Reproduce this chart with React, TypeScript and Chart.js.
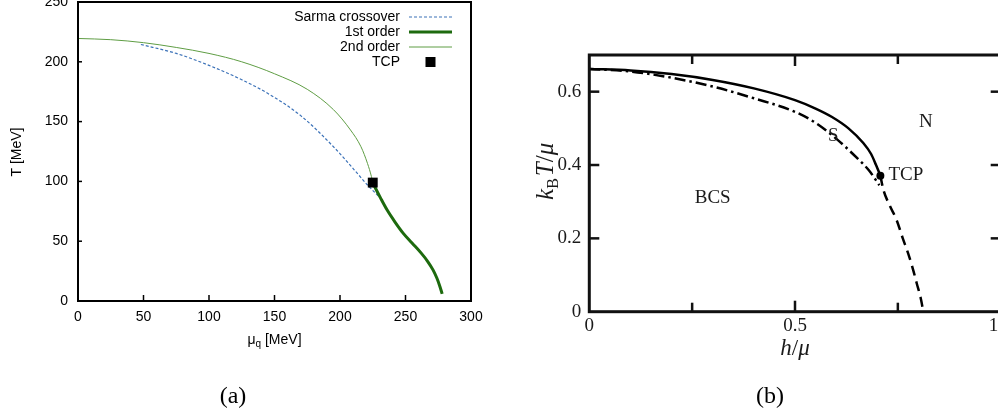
import React, { useEffect, useRef } from 'react';
import { Chart, registerables } from 'chart.js';

Chart.register(...registerables);

// ---------- Panel (a) data ----------
const muSecond = [0, 25, 50, 75, 100, 125, 150, 175, 195, 208, 216, 221, 224, 225];
const tSecond = [219.5, 218.5, 216, 212, 207, 200, 190, 177, 160, 143, 129, 115, 104, 99];
const muSarma = [48, 75, 100, 125, 145, 170, 195, 211, 221, 230];
const tSarma = [214.5, 207, 197, 185, 173.5, 155, 129, 109.5, 97, 87];
const muFirst = [225, 227, 231, 236, 242, 248, 255, 262, 267, 271, 274, 276, 278];
const tFirst = [99, 94.5, 86, 76, 66, 57, 48.5, 40, 33, 26, 19, 13, 6];
const muTcp = [225];
const tTcp = [99];
const legendA = ['Sarma crossover', '1st order', '2nd order', 'TCP'];
const xTicksA = [0, 50, 100, 150, 200, 250, 300];
const yTicksA = [0, 50, 100, 150, 200, 250];

// ---------- Panel (b) data ----------
const hSecondB = [0, 0.1, 0.2, 0.3, 0.4, 0.5, 0.55, 0.59, 0.63, 0.666, 0.685, 0.697, 0.7075];
const tSecondB = [0.662, 0.658, 0.648, 0.632, 0.609, 0.577, 0.554, 0.531, 0.5, 0.46, 0.43, 0.4, 0.371];
const hSarmaB = [0, 0.1, 0.2, 0.3, 0.4, 0.5, 0.55, 0.6, 0.65, 0.68, 0.705];
const tSarmaB = [0.662, 0.655, 0.638, 0.614, 0.582, 0.545, 0.515, 0.472, 0.42, 0.385, 0.345];
const hFirstB = [0.7075, 0.715, 0.73, 0.747, 0.762, 0.775, 0.787, 0.796, 0.805, 0.812];
const tFirstB = [0.371, 0.332, 0.29, 0.25, 0.2, 0.159, 0.115, 0.077, 0.04, 0];
const hTcpB = [0.7075];
const tTcpB = [0.371];
const xTicksB = [0, 0.5, 1];
const yTicksB = [0, 0.2, 0.4, 0.6];
const xMarksB = [0.25, 0.5, 0.75];
const yMarksB = [0.2, 0.4, 0.6];
const regionLabelsB = ['S', 'N', 'BCS', 'TCP'];
const regionHB = [0.593, 0.818, 0.3, 0.727];
const regionTB = [0.478, 0.518, 0.311, 0.373];

const SANS = '"Liberation Sans", Arial, sans-serif';
const SERIF = '"Liberation Serif", "Times New Roman", serif';

const C_BLUE = '#3c72b8';
const C_DARK = '#1d6a0e';
const C_LIGHT = '#5f9d44';

const pts = (xs: number[], ys: number[]) => xs.map((x, i) => ({ x, y: ys[i] }));

type Run = { t: string; f: string; dy?: number; dx?: number };
function drawRuns(ctx: CanvasRenderingContext2D, runs: Run[], x: number, y: number, align: 'left' | 'center' | 'right') {
  let w = 0;
  for (const r of runs) {
    ctx.font = r.f;
    w += ctx.measureText(r.t).width + (r.dx || 0);
  }
  let cx = align === 'center' ? x - w / 2 : align === 'right' ? x - w : x;
  ctx.textAlign = 'left';
  for (const r of runs) {
    ctx.font = r.f;
    cx += r.dx || 0;
    ctx.fillText(r.t, cx, y + (r.dy || 0));
    cx += ctx.measureText(r.t).width;
  }
}

function seg(ctx: CanvasRenderingContext2D, x1: number, y1: number, x2: number, y2: number) {
  ctx.beginPath();
  ctx.moveTo(x1, y1);
  ctx.lineTo(x2, y2);
  ctx.stroke();
}

const panelAPlugin = {
  id: 'panelA',
  afterDatasetsDraw(chart: any) {
    const { ctx, chartArea: ca, scales } = chart;
    const x = scales.x;
    const y = scales.y;
    ctx.save();
    ctx.strokeStyle = '#000';
    ctx.lineWidth = 2;
    ctx.strokeRect(ca.left, ca.top, ca.right - ca.left, ca.bottom - ca.top);
    ctx.lineWidth = 1.5;
    for (const v of xTicksA) {
      const px = x.getPixelForValue(v);
      seg(ctx, px, ca.bottom, px, ca.bottom - 6);
    }
    for (const v of yTicksA) {
      const py = y.getPixelForValue(v);
      seg(ctx, ca.left, py, ca.left + 4, py);
    }
    // axis titles
    ctx.fillStyle = '#000';
    ctx.textBaseline = 'middle';
    drawRuns(ctx, [
      { t: 'μ', f: `14px ${SANS}` },
      { t: 'q', f: `10px ${SANS}`, dy: 4 },
      { t: ' [MeV]', f: `14px ${SANS}` },
    ], (ca.left + ca.right) / 2, ca.bottom + 39, 'center');
    ctx.save();
    ctx.translate(ca.left - 61, ca.top + 150);
    ctx.rotate(-Math.PI / 2);
    drawRuns(ctx, [{ t: 'T [MeV]', f: `14px ${SANS}` }], 0, 0, 'center');
    ctx.restore();
    // legend
    const textRight = 400;
    const l0 = 409;
    const l1 = 452;
    const rows = [ca.top + 15, ca.top + 30, ca.top + 45, ca.top + 60];
    ctx.font = `14px ${SANS}`;
    ctx.textAlign = 'right';
    legendA.forEach((t, i) => ctx.fillText(t, textRight, rows[i]));
    ctx.strokeStyle = C_BLUE;
    ctx.lineWidth = 1.2;
    ctx.setLineDash([3, 2]);
    seg(ctx, l0, rows[0], l1, rows[0]);
    ctx.setLineDash([]);
    ctx.strokeStyle = C_DARK;
    ctx.lineWidth = 3;
    seg(ctx, l0, rows[1], l1, rows[1]);
    ctx.strokeStyle = C_LIGHT;
    ctx.lineWidth = 1;
    seg(ctx, l0, rows[2], l1, rows[2]);
    ctx.fillStyle = '#000';
    ctx.fillRect((l0 + l1) / 2 - 5, rows[3] - 5, 10, 10);
    ctx.restore();
  },
};

const panelBPlugin = {
  id: 'panelB',
  afterDatasetsDraw(chart: any) {
    const { ctx, chartArea: ca, scales } = chart;
    const x = scales.x;
    const y = scales.y;
    ctx.save();
    ctx.strokeStyle = '#111';
    ctx.lineWidth = 3;
    ctx.strokeRect(ca.left, ca.top, ca.right - ca.left, ca.bottom - ca.top);
    ctx.lineWidth = 2.5;
    for (const v of xMarksB) {
      const px = x.getPixelForValue(v);
      const len = v === 0.5 ? 11 : 9;
      seg(ctx, px, ca.bottom, px, ca.bottom - len);
      seg(ctx, px, ca.top, px, ca.top + len);
    }
    for (const v of yMarksB) {
      const py = y.getPixelForValue(v);
      seg(ctx, ca.left, py, ca.left + 10, py);
      seg(ctx, ca.right, py, ca.right - 10, py);
    }
    ctx.fillStyle = '#1a1a1a';
    ctx.textBaseline = 'middle';
    regionLabelsB.forEach((t, i) => {
      ctx.font = `19px ${SERIF}`;
      ctx.textAlign = t === 'TCP' ? 'left' : 'center';
      ctx.fillText(t, x.getPixelForValue(regionHB[i]), y.getPixelForValue(regionTB[i]));
    });
    // axis titles
    ctx.textBaseline = 'alphabetic';
    drawRuns(ctx, [
      { t: 'h', f: `italic 23px ${SERIF}` },
      { t: '/', f: `23px ${SERIF}` },
      { t: 'μ', f: `italic 23px ${SERIF}` },
    ], x.getPixelForValue(0.5), ca.bottom + 43, 'center');
    ctx.save();
    ctx.translate(ca.left - 36, (ca.top + ca.bottom) / 2 - 12);
    ctx.rotate(-Math.PI / 2);
    drawRuns(ctx, [
      { t: 'k', f: `italic 25px ${SERIF}` },
      { t: 'B', f: `16px ${SERIF}`, dy: 5 },
      { t: 'T', f: `italic 25px ${SERIF}`, dx: 2 },
      { t: '/', f: `25px ${SERIF}` },
      { t: 'μ', f: `italic 25px ${SERIF}` },
    ], 0, 0, 'center');
    ctx.restore();
    ctx.restore();
  },
};

function PanelA() {
  const ref = useRef<HTMLCanvasElement>(null);
  useEffect(() => {
    if (!ref.current) return;
    const chart = new Chart(ref.current, {
      type: 'line',
      data: {
        datasets: [
          {
            label: 'TCP', data: pts(muTcp, tTcp), showLine: false, pointStyle: 'rect',
            pointRadius: 7, pointBackgroundColor: '#000', pointBorderWidth: 0, order: 0,
          },
          {
            label: '2nd order', data: pts(muSecond, tSecond), borderColor: C_LIGHT, borderWidth: 1,
            pointRadius: 0, cubicInterpolationMode: 'monotone', order: 3,
          },
          {
            label: 'Sarma crossover', data: pts(muSarma, tSarma), borderColor: C_BLUE, borderWidth: 1.2,
            borderDash: [3, 2], pointRadius: 0, cubicInterpolationMode: 'monotone', order: 2,
          },
          {
            label: '1st order', data: pts(muFirst, tFirst), borderColor: C_DARK, borderWidth: 3,
            pointRadius: 0, cubicInterpolationMode: 'monotone', order: 1,
          },
        ],
      },
      options: {
        animation: false,
        responsive: false,
        devicePixelRatio: 1,
        layout: { padding: { top: 19, right: 22, bottom: 0, left: 0 } },
        plugins: { legend: { display: false }, tooltip: { enabled: false } },
        scales: {
          x: {
            type: 'linear', min: 0, max: 300,
            grid: { display: false, drawTicks: false }, border: { display: false },
            ticks: { stepSize: 50, padding: 8, color: '#000', font: { family: SANS, size: 14 } },
            afterFit: (s: any) => { s.height = 109; },
          },
          y: {
            type: 'linear', min: 0, max: 250,
            grid: { display: false, drawTicks: false }, border: { display: false },
            ticks: { stepSize: 50, padding: 10, color: '#000', font: { family: SANS, size: 14 } },
            afterFit: (s: any) => { s.width = 78; },
          },
        },
      } as any,
      plugins: [panelAPlugin],
    });
    return () => chart.destroy();
  }, []);
  return (
    <canvas ref={ref} width={493} height={427}
      style={{ position: 'absolute', left: 0, top: -17, width: 493, height: 427 }} />
  );
}

function PanelB() {
  const ref = useRef<HTMLCanvasElement>(null);
  useEffect(() => {
    if (!ref.current) return;
    const chart = new Chart(ref.current, {
      type: 'line',
      data: {
        datasets: [
          {
            label: 'TCP', data: pts(hTcpB, tTcpB), showLine: false, pointStyle: 'circle',
            pointRadius: 4, pointBackgroundColor: '#000', pointBorderWidth: 0, order: 0,
          },
          {
            label: 'second', data: pts(hSecondB, tSecondB), borderColor: '#000', borderWidth: 2.5,
            pointRadius: 0, cubicInterpolationMode: 'monotone', order: 1,
          },
          {
            label: 'sarma', data: pts(hSarmaB, tSarmaB), borderColor: '#000', borderWidth: 2.5,
            borderDash: [11, 4, 2.5, 4], pointRadius: 0, cubicInterpolationMode: 'monotone', order: 2,
          },
          {
            label: 'first', data: pts(hFirstB, tFirstB), borderColor: '#000', borderWidth: 2.5,
            borderDash: [10, 6], pointRadius: 0, cubicInterpolationMode: 'monotone', order: 3,
          },
        ],
      },
      options: {
        animation: false,
        responsive: false,
        devicePixelRatio: 1,
        layout: { padding: { top: 55, right: 19.3, bottom: 0, left: 0 } },
        plugins: { legend: { display: false }, tooltip: { enabled: false } },
        scales: {
          x: {
            type: 'linear', min: 0, max: 1,
            grid: { display: false, drawTicks: false }, border: { display: false },
            afterBuildTicks: (s: any) => { s.ticks = xTicksB.map((v) => ({ value: v })); },
            ticks: { padding: 3, color: '#1a1a1a', font: { family: SERIF, size: 19 }, autoSkip: false },
            afterFit: (s: any) => { s.height = 88.3; },
          },
          y: {
            type: 'linear', min: 0, max: 0.7,
            grid: { display: false, drawTicks: false }, border: { display: false },
            afterBuildTicks: (s: any) => { s.ticks = yTicksB.map((v) => ({ value: v })); },
            ticks: { padding: 8, color: '#1a1a1a', font: { family: SERIF, size: 19 }, autoSkip: false },
            afterFit: (s: any) => { s.width = 89.3; },
          },
        },
      } as any,
      plugins: [panelBPlugin],
    });
    return () => chart.destroy();
  }, []);
  return (
    <canvas ref={ref} width={520} height={400}
      style={{ position: 'absolute', left: 500, top: 0, width: 520, height: 400 }} />
  );
}

const captionStyle: React.CSSProperties = {
  position: 'absolute', top: 395, transform: 'translate(-50%, -50%)',
  fontFamily: SERIF, fontSize: 24, color: '#000', whiteSpace: 'nowrap', lineHeight: 1,
};

export default function App() {
  return (
    <div style={{ position: 'absolute', left: 0, top: 0, width: 998, height: 415, overflow: 'hidden', background: '#fff' }}>
      <PanelA />
      <PanelB />
      <div style={{ ...captionStyle, left: 233 }}>(a)</div>
      <div style={{ ...captionStyle, left: 770 }}>(b)</div>
    </div>
  );
}
